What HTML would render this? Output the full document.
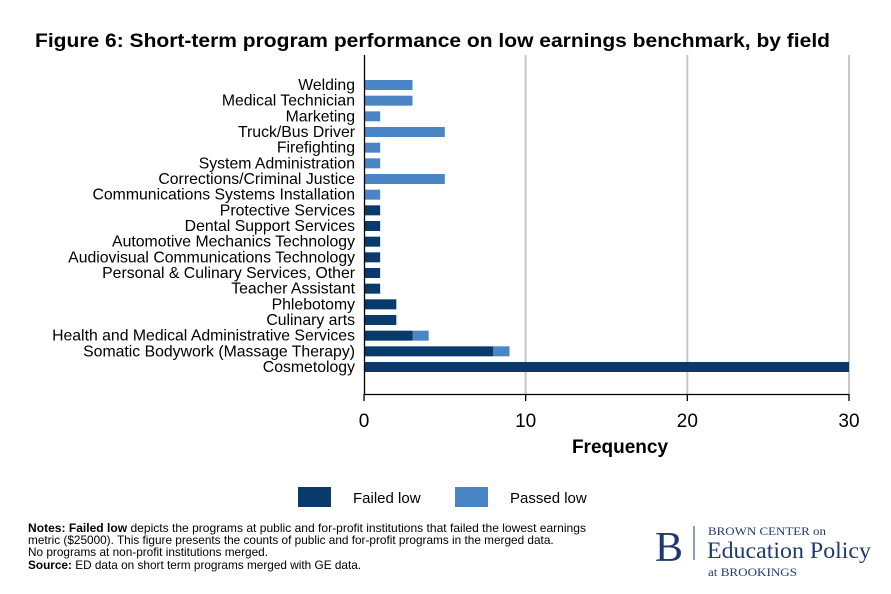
<!DOCTYPE html>
<html><head><meta charset="utf-8"><style>
body{margin:0;background:#fff;width:891px;height:594px;overflow:hidden;font-family:"Liberation Sans",sans-serif}
svg{display:block}
</style></head><body>
<svg width="891" height="594">
<text x="35" y="47" font-size="19.5" font-weight="bold" fill="#000" textLength="795" lengthAdjust="spacingAndGlyphs">Figure 6: Short-term program performance on low earnings benchmark, by field</text>
<g id="grid"></g>
<g id="bars"></g>
<g id="labels"></g>
<line x1="364.5" y1="55" x2="364.5" y2="394.5" stroke="#000" stroke-width="1.3"/>
<line x1="364" y1="394.5" x2="849" y2="394.5" stroke="#000" stroke-width="1.3"/>
<g id="ticks"></g>
<text x="620" y="453" font-size="19" font-weight="bold" text-anchor="middle">Frequency</text>
<rect x="298" y="487" width="33" height="20" fill="#083a6b"/>
<text x="353" y="503" font-size="15">Failed low</text>
<rect x="455" y="487" width="33" height="20" fill="#4a86c5"/>
<text x="510" y="503" font-size="15">Passed low</text>
<g font-size="11.8">
<text x="28" y="532" textLength="558" lengthAdjust="spacingAndGlyphs"><tspan font-weight="bold">Notes: Failed low</tspan> depicts the programs at public and for-profit institutions that failed the lowest earnings</text>
<text x="28" y="544">metric ($25000). This figure presents the counts of public and for-profit programs in the merged data.</text>
<text x="28" y="556">No programs at non-profit institutions merged.</text>
<text x="28" y="569"><tspan font-weight="bold">Source:</tspan> ED data on short term programs merged with GE data.</text>
</g>
<g fill="#1f3a6e" font-family="Liberation Serif,serif">
<text x="655" y="561" font-size="42">B</text>
<line x1="694" y1="526" x2="694" y2="560" stroke="#1f3a6e" stroke-width="1"/>
<text x="708" y="535" font-size="12" textLength="118" lengthAdjust="spacingAndGlyphs">BROWN CENTER on</text>
<text x="707" y="558" font-size="23.5" textLength="164" lengthAdjust="spacingAndGlyphs">Education Policy</text>
<text x="708" y="576" font-size="12" textLength="89" lengthAdjust="spacingAndGlyphs">at BROOKINGS</text>
</g>
</svg>
<script>
const categories=["Welding","Medical Technician","Marketing","Truck/Bus Driver","Firefighting","System Administration","Corrections/Criminal Justice","Communications Systems Installation","Protective Services","Dental Support Services","Automotive Mechanics Technology","Audiovisual Communications Technology","Personal & Culinary Services, Other","Teacher Assistant","Phlebotomy","Culinary arts","Health and Medical Administrative Services","Somatic Bodywork (Massage Therapy)","Cosmetology"];
const failedLow=[0,0,0,0,0,0,0,0,1,1,1,1,1,1,2,2,3,8,30];
const passedLow=[3,3,1,5,1,1,5,1,0,0,0,0,0,0,0,0,1,1,0];
const xTicks=[0,10,20,30];
const NS="http://www.w3.org/2000/svg";
const x=v=>364+v*(849-364)/30;
const y=i=>85+i*(367-85)/18;
function mk(t,a,p){const e=document.createElementNS(NS,t);for(const k in a)e.setAttribute(k,a[k]);document.getElementById(p).appendChild(e);return e;}
xTicks.forEach(t=>{
 if(t>0){const g=mk('line',{x1:x(t),x2:x(t),y1:55,y2:394,stroke:'#c8c8c8','stroke-width':2},'grid');
 
 }
 const tk=mk('line',{x1:x(t),x2:x(t),y1:394,y2:401,stroke:'#000','stroke-width':1.3},'ticks');
 
 
 const tl=mk('text',{x:x(t),y:427,'font-size':19,'text-anchor':'middle'},'ticks');
 tl.textContent=t;
 
 
});
categories.forEach((c,i)=>{
 const l=mk('text',{x:355,y:y(i)+5,'font-size':15.8,'text-anchor':'end'},'labels');
 l.textContent=c;
 
 
 if(failedLow[i]>0){const b=mk('rect',{x:x(0),y:y(i)-5,width:x(failedLow[i])-x(0),height:10,fill:'#083a6b'},'bars');
 
 }
 if(passedLow[i]>0){const b=mk('rect',{x:x(failedLow[i]),y:y(i)-5,width:x(passedLow[i])-x(0),height:10,fill:'#4a86c5'},'bars');
 
 }
});
</script>
</body></html>
